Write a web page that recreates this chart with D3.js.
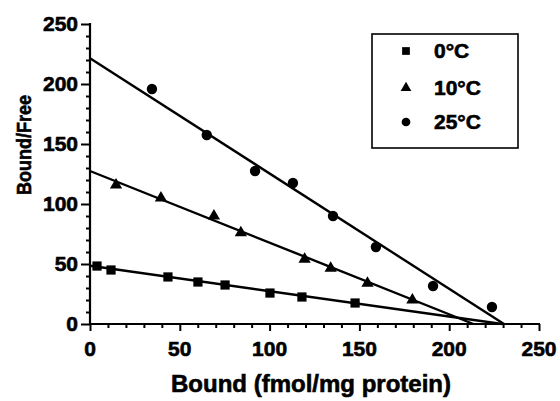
<!DOCTYPE html>
<html>
<head>
<meta charset="utf-8">
<script src="https://cdn.jsdelivr.net/npm/d3@7"></script>
<style>
  body { margin: 0; background: #fff; }
  text { font-family: 'Liberation Sans', Arial, sans-serif; font-weight: bold; fill: #000; stroke: #000; stroke-width: 0.6px; }
</style>
</head>
<body>
<svg id="chart" width="560" height="401"></svg>
<script>
// series labels
const seriesNames = ['0°C', '10°C', '25°C']
const seriesShapes = ['square', 'triangle', 'circle']

// Bound (x) and Bound/Free (y) per temperature
const bound0 = [3.9, 11.7, 43.4, 60.1, 75.2, 100.2, 118, 147.6]
const ratio0 = [48.3, 45, 39.2, 35, 32.5, 25.8, 22.5, 17.5]

const bound10 = [14.5, 39.5, 69, 84, 119.5, 134, 154.5, 179.5]
const ratio10 = [115.8, 105, 90, 76, 54, 46.5, 34, 20]

const bound25 = [34.5, 65, 91.9, 113, 135.3, 159.2, 191, 223.8]
const ratio25 = [195.8, 157.5, 127.5, 117.5, 90, 64.2, 31.7, 14.2]

// fitted lines: y-intercept and x-intercept
const fitYIntercept = [48.5, 127.5, 221.5]
const fitXIntercept = [229.5, 213.5, 230.5]

const xTicks = [0, 50, 100, 150, 200, 250]
const yTicks = [0, 50, 100, 150, 200, 250]

const series = [
  { bound: bound0, ratio: ratio0 },
  { bound: bound10, ratio: ratio10 },
  { bound: bound25, ratio: ratio25 }
]

const svg = d3.select('#chart')

const x = d3.scaleLinear().domain([0, 250]).range([90, 539])
const y = d3.scaleLinear().domain([0, 250]).range([324, 24])

// x axis
const xAxis = svg.append('g').attr('transform', `translate(0,${y(0)})`)
xAxis.call(d3.axisBottom(x).tickValues(d3.range(0, 251, 10)).tickSize(4).tickFormat(''))
xAxis.call(g => g.selectAll('.tick').filter(d => d % 50 === 0).select('line').attr('y2', 7))
xAxis.selectAll('.domain').remove()
xAxis.selectAll('line').attr('stroke', '#000').attr('stroke-width', 2)
xAxis.append('line')
  .attr('x1', x(0) - 1).attr('x2', x(250) + 1)
  .attr('stroke', '#000').attr('stroke-width', 2.2)
xAxis.selectAll('text.lbl')
  .data(xTicks)
  .join('text')
  .attr('class', 'lbl')
  .attr('x', d => x(d))
  .attr('y', 32)
  .attr('text-anchor', 'middle')
  .style('font-size', '21px')
  .text(d => d)

// y axis
const yAxis = svg.append('g').attr('transform', `translate(${x(0)},0)`)
yAxis.call(d3.axisLeft(y).tickValues(d3.range(0, 251, 10)).tickSize(4).tickFormat(''))
yAxis.call(g => g.selectAll('.tick').filter(d => d % 50 === 0).select('line').attr('x2', -9))
yAxis.selectAll('.domain').remove()
yAxis.selectAll('line').attr('stroke', '#000').attr('stroke-width', 2)
yAxis.append('line')
  .attr('y1', y(250) - 1).attr('y2', y(0) + 1)
  .attr('stroke', '#000').attr('stroke-width', 2.2)
yAxis.selectAll('text.lbl')
  .data(yTicks)
  .join('text')
  .attr('class', 'lbl')
  .attr('x', -12)
  .attr('y', d => y(d) + 7)
  .attr('text-anchor', 'end')
  .style('font-size', '21px')
  .text(d => d)

// axis titles
svg.append('text')
  .attr('x', 311)
  .attr('y', 392)
  .attr('text-anchor', 'middle')
  .style('font-size', '24px')
  .text('Bound (fmol/mg protein)')

svg.append('text')
  .attr('transform', 'translate(31,145) rotate(-90)')
  .attr('text-anchor', 'middle')
  .attr('textLength', 100)
  .attr('lengthAdjust', 'spacingAndGlyphs')
  .style('font-size', '21px')
  .text('Bound/Free')

// fit lines
svg.selectAll('line.fit')
  .data(fitYIntercept)
  .join('line')
  .attr('class', 'fit')
  .attr('x1', x(0))
  .attr('y1', d => y(d))
  .attr('x2', (d, i) => x(fitXIntercept[i]))
  .attr('y2', y(0))
  .attr('stroke', '#000')
  .attr('stroke-width', 2.4)

// markers
const symbolFor = {
  square: d3.symbol().type(d3.symbolSquare).size(85),
  triangle: d3.symbol().type(d3.symbolTriangle).size(65),
  circle: d3.symbol().type(d3.symbolCircle).size(85)
}

series.forEach((s, si) => {
  svg.append('g')
    .selectAll('path')
    .data(s.bound)
    .join('path')
    .attr('d', symbolFor[seriesShapes[si]]())
    .attr('transform', (d, i) => `translate(${x(d)},${y(s.ratio[i])})`)
    .attr('fill', '#000')
})

// legend
const legend = svg.append('g')
legend.append('rect')
  .attr('x', 372).attr('y', 34)
  .attr('width', 146).attr('height', 114)
  .attr('fill', '#fff')
  .attr('stroke', '#000')
  .attr('stroke-width', 1.6)

const legendRows = [51, 88, 122]
const legendSymbol = {
  square: d3.symbol().type(d3.symbolSquare).size(60),
  triangle: d3.symbol().type(d3.symbolTriangle).size(50),
  circle: d3.symbol().type(d3.symbolCircle).size(60)
}
seriesNames.forEach((name, i) => {
  legend.append('path')
    .attr('d', legendSymbol[seriesShapes[i]]())
    .attr('transform', `translate(406,${legendRows[i]})`)
    .attr('fill', '#000')
  legend.append('text')
    .attr('x', 434)
    .attr('y', legendRows[i] + 7)
    .style('font-size', '21px')
    .text(name)
})
</script>
</body>
</html>
